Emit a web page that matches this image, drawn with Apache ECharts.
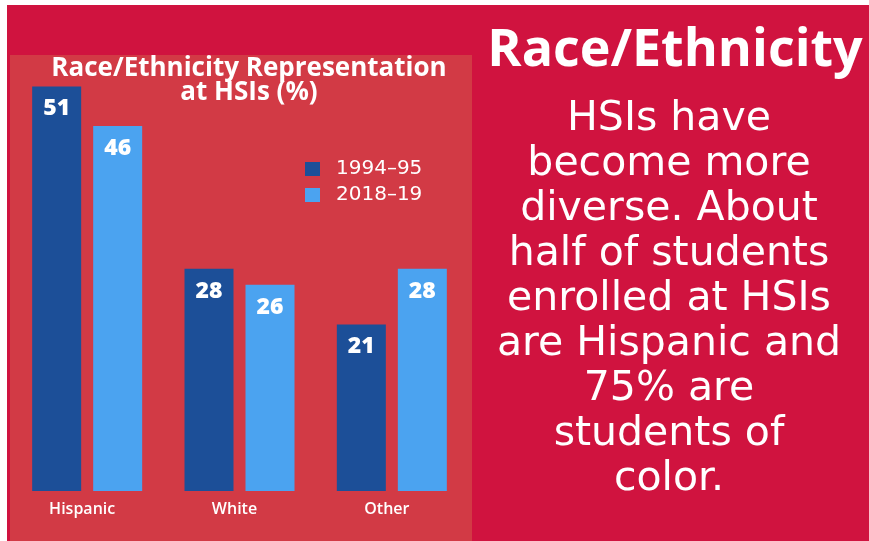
<!DOCTYPE html>
<html>
<head>
<meta charset="utf-8">
<title>Race/Ethnicity Representation at HSIs</title>
<script src="https://cdn.jsdelivr.net/npm/echarts@6/dist/echarts.min.js"></script>
<style>
  html, body { margin: 0; padding: 0; background: #d0133f; overflow: hidden; }
  #chart { width: 869px; height: 541px; }
</style>
</head>
<body>
<div id="chart"></div>
<script>
// Groups and enrollment shares (%)
const categories = ['Hispanic', 'White', 'Other'];
const seriesNames = ['1994\u201395', '2018\u201319'];
const share1994 = [51, 28, 21];
const share2018 = [46, 26, 28];

// Side panel copy
const headline = 'Race/Ethnicity';
const bodyLines = [
  'HSIs have',
  'become more',
  'diverse. About',
  'half of students',
  'enrolled at HSIs',
  'are Hispanic and',
  '75% are',
  'students of',
  'color.'
];

const CRIMSON = '#d0133f';
const PANEL = '#d23a45';
const DARK_BLUE = '#1c4f98';
const LIGHT_BLUE = '#4ba3f0';

const chart = echarts.init(document.getElementById('chart'), null, { renderer: 'canvas' });

const barLabel = {
  show: true,
  position: 'insideTop',
  distance: 11,
  color: '#ffffff',
  fontFamily: 'Open Sans',
  fontWeight: 800,
  fontSize: 23
};

chart.setOption({
  backgroundColor: CRIMSON,
  animation: false,
  title: {
    text: 'Race/Ethnicity Representation\nat HSIs (%)',
    left: 244,
    top: 52,
    textAlign: 'center',
    textStyle: {
      color: '#ffffff',
      fontFamily: 'Open Sans',
      fontWeight: 'bold',
      fontSize: 26,
      lineHeight: 24
    }
  },
  legend: {
    orient: 'vertical',
    left: 300,
    top: 154,
    icon: 'rect',
    itemWidth: 15,
    itemHeight: 14,
    itemGap: 6,
    data: seriesNames,
    textStyle: {
      color: '#ffffff',
      fontFamily: 'DejaVu Sans',
      fontSize: 20,
      padding: [0, 0, 0, 11]
    }
  },
  grid: { left: 11, right: 401, top: 15, bottom: 50, containLabel: false },
  xAxis: {
    type: 'category',
    data: categories,
    axisLine: { show: false },
    axisTick: { show: false },
    axisLabel: {
      color: '#ffffff',
      fontFamily: 'Open Sans',
      fontWeight: 600,
      fontSize: 16,
      margin: 10,
      padding: [0, 10, 0, 0]
    }
  },
  yAxis: {
    type: 'value',
    min: 0,
    max: 60,
    show: false,
    splitLine: { show: false }
  },
  series: [
    {
      name: seriesNames[0],
      type: 'bar',
      data: share1994,
      barWidth: 49,
      barGap: '24.5%',
      itemStyle: { color: DARK_BLUE },
      label: barLabel
    },
    {
      name: seriesNames[1],
      type: 'bar',
      data: share2018,
      barWidth: 49,
      barGap: '24.5%',
      itemStyle: { color: LIGHT_BLUE },
      label: barLabel
    }
  ],
  graphic: [
    // white margins along the top and left edges
    { type: 'rect', z: -10, silent: true, shape: { x: 0, y: 0, width: 869, height: 5 }, style: { fill: '#ffffff' } },
    { type: 'rect', z: -10, silent: true, shape: { x: 0, y: 0, width: 7, height: 541 }, style: { fill: '#ffffff' } },
    // lighter panel behind the bars
    { type: 'rect', z: -10, silent: true, shape: { x: 10, y: 55, width: 462, height: 486 }, style: { fill: PANEL } },
    {
      type: 'text',
      x: 675,
      y: 51,
      silent: true,
      style: {
        text: headline,
        fill: '#ffffff',
        font: 'bold 52px "Open Sans"',
        textAlign: 'center',
        textVerticalAlign: 'middle'
      }
    },
    {
      type: 'text',
      x: 669,
      y: 97,
      silent: true,
      style: {
        text: bodyLines.join('\n'),
        fill: '#ffffff',
        font: '41px "DejaVu Sans"',
        lineHeight: 45,
        textAlign: 'center',
        textVerticalAlign: 'top'
      }
    }
  ]
});
</script>
</body>
</html>
